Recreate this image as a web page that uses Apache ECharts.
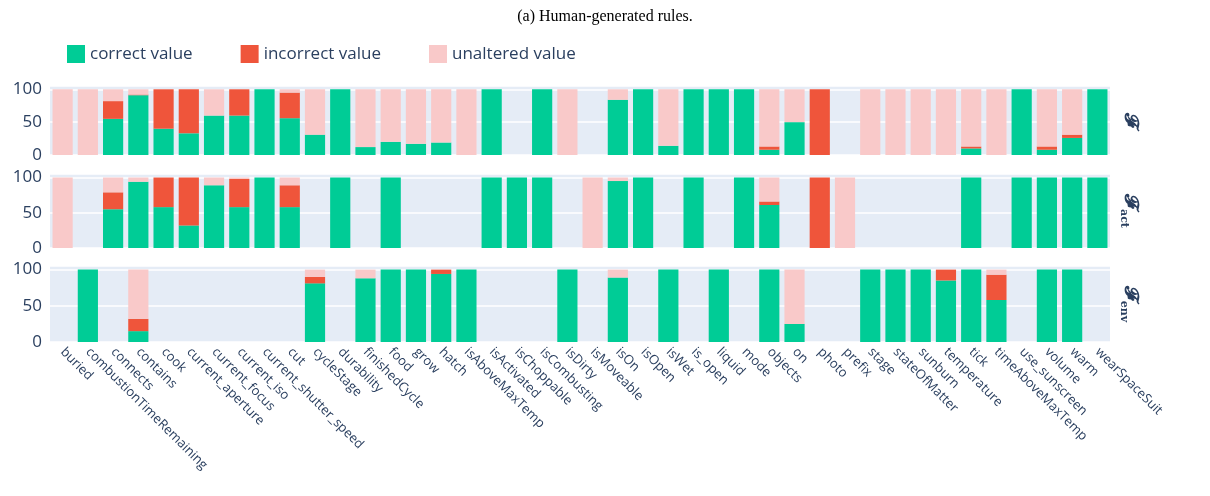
<!DOCTYPE html>
<html><head><meta charset="utf-8">
<script src="https://cdn.jsdelivr.net/npm/echarts@6/dist/echarts.min.js"></script>
<style>html,body{margin:0;padding:0;background:#fff}#c{width:1210px;height:496px}</style>
</head><body><div id="c"></div>
<script>
var categories = ['buried','combustionTimeRemaining','connects','contains','cook','current_aperture','current_focus','current_iso','current_shutter_speed','cut','cycleStage','durability','finishedCycle','food','grow','hatch','isAboveMaxTemp','isActivated','isChoppable','isCombusting','isDirty','isMoveable','isOn','isOpen','isWet','is_open','liquid','mode','objects','on','photo','prefix','stage','stateOfMatter','sunburn','temperature','tick','timeAboveMaxTemp','use_sunscreen','volume','warm','wearSpaceSuit'];

// F
var fCorrect   = [0,0,55,91,40,33,60,60,100,56,31,100,12,20,17,19,0,100,0,100,0,0,84,100,14,100,100,100,8,50,0,0,0,0,0,0,10,0,100,8,26,100];
var fIncorrect = [0,0,27,1,60,67,0,40,0,39,0,0,0,0,0,0,0,0,0,0,0,0,0,0,0,0,0,0,5,0,100,0,0,0,0,0,3,0,0,5,5,0];
var fUnaltered = [100,100,18,8,0,0,40,0,0,5,69,0,88,80,83,81,100,0,0,0,100,0,16,0,86,0,0,0,87,50,0,0,100,100,100,100,87,100,0,87,69,0];
// F_act
var actCorrect   = [0,0,55,94,58,32,89,58,100,58,0,100,0,100,0,0,0,100,100,100,0,0,95,100,0,100,0,100,61,0,0,0,0,0,0,0,100,0,100,100,100,100];
var actIncorrect = [0,0,24,0,42,68,0,40,0,31,0,0,0,0,0,0,0,0,0,0,0,0,0,0,0,0,0,0,5,0,100,0,0,0,0,0,0,0,0,0,0,0];
var actUnaltered = [100,0,21,6,0,0,11,2,0,11,0,0,0,0,0,0,0,0,0,0,0,100,5,0,0,0,0,0,34,0,0,100,0,0,0,0,0,0,0,0,0,0];
// F_env
var envCorrect   = [0,100,0,15,0,0,0,0,0,0,81,0,88,100,100,94,100,0,0,0,100,0,89,0,100,0,100,0,100,25,0,0,100,100,100,85,100,58,0,100,100,0];
var envIncorrect = [0,0,0,17,0,0,0,0,0,0,9,0,0,0,0,6,0,0,0,0,0,0,0,0,0,0,0,0,0,0,0,0,0,0,0,15,0,35,0,0,0,0];
var envUnaltered = [0,0,0,68,0,0,0,0,0,0,10,0,12,0,0,0,0,0,0,0,0,0,11,0,0,0,0,0,0,75,0,0,0,0,0,0,0,7,0,0,0,0];

var yTicks = [0, 50, 100];
var GREEN = '#00cc96', RED = '#ef553b', PINK = '#f9c9c9', TXT = '#2a3f5f';

var grids = [
  {left: 50, right: 100, top: 86, height: 69},
  {left: 50, right: 100, top: 174, height: 74},
  {left: 50, right: 100, top: 266, height: 76}
];
grids.forEach(function(g){ g.show = true; g.backgroundColor = '#e5ecf6'; g.borderWidth = 0; });

var xAxes = grids.map(function(g, i){
  return {
    type: 'category', gridIndex: i, data: categories,
    axisLine: {show: false}, axisTick: {show: false},
    axisLabel: i === 2 ? {rotate: -45, interval: 0, fontSize: 13, color: TXT, margin: 8} : {show: false}
  };
});
var yAxes = grids.map(function(g, i){
  return {
    type: 'value', gridIndex: i, min: 0, max: 105, interval: 50,
    axisLabel: {fontSize: 17, color: TXT, showMaxLabel: false,
      formatter: function(v){ return yTicks.indexOf(v) >= 0 ? v : ''; }},
    splitLine: {lineStyle: {color: '#fff', width: 1.5}},
    axisLine: {show: false}, axisTick: {show: false}
  };
});

function nz(a){ return a.map(function(v){ return v === 0 ? '-' : v; }); }
var panels = [[fCorrect, fIncorrect, fUnaltered], [actCorrect, actIncorrect, actUnaltered], [envCorrect, envIncorrect, envUnaltered]];
var names = ['correct value', 'incorrect value', 'unaltered value'];
var colors = [GREEN, RED, PINK];
var series = [];
panels.forEach(function(p, i){
  p.forEach(function(arr, k){
    series.push({
      name: names[k], type: 'bar', stack: 'p' + i, xAxisIndex: i, yAxisIndex: i,
      data: nz(arr), barWidth: '80%', itemStyle: {color: colors[k]}
    });
  });
});

var chart = echarts.init(document.getElementById('c'));
chart.setOption({
  animation: false,
  textStyle: {fontFamily: 'Open Sans, DejaVu Sans, sans-serif'},
  title: {text: '(a) Human-generated rules.', left: 'center', top: 4,
    textStyle: {fontFamily: 'Liberation Serif, serif', fontWeight: 'normal', fontSize: 16, color: '#000'}},
  legend: {data: names, left: 62, top: 40, itemWidth: 18, itemHeight: 18, itemGap: 48,
    icon: 'rect', textStyle: {fontSize: 17, color: TXT}},
  grid: grids, xAxis: xAxes, yAxis: yAxes, series: series,
  graphic: [
    {type: 'text', x: 1130, y: 120, rotation: -Math.PI / 2, style: {text: '𝓕', font: 'bold 20px DejaVu Serif', fill: TXT, align: 'center', verticalAlign: 'middle'}},
    {type: 'text', x: 1130, y: 211, rotation: -Math.PI / 2, style: {rich: {a: {font: 'bold 20px DejaVu Serif', fill: TXT}, b: {font: 'bold 11px DejaVu Serif', fill: TXT, verticalAlign: 'bottom', padding: [12,0,0,0]}}, text: '{a|𝓕}{b|act}', align: 'center', verticalAlign: 'middle'}},
    {type: 'text', x: 1130, y: 304, rotation: -Math.PI / 2, style: {rich: {a: {font: 'bold 20px DejaVu Serif', fill: TXT}, b: {font: 'bold 11px DejaVu Serif', fill: TXT, verticalAlign: 'bottom', padding: [12,0,0,0]}}, text: '{a|𝓕}{b|env}', align: 'center', verticalAlign: 'middle'}}
  ]
});
</script></body></html>
